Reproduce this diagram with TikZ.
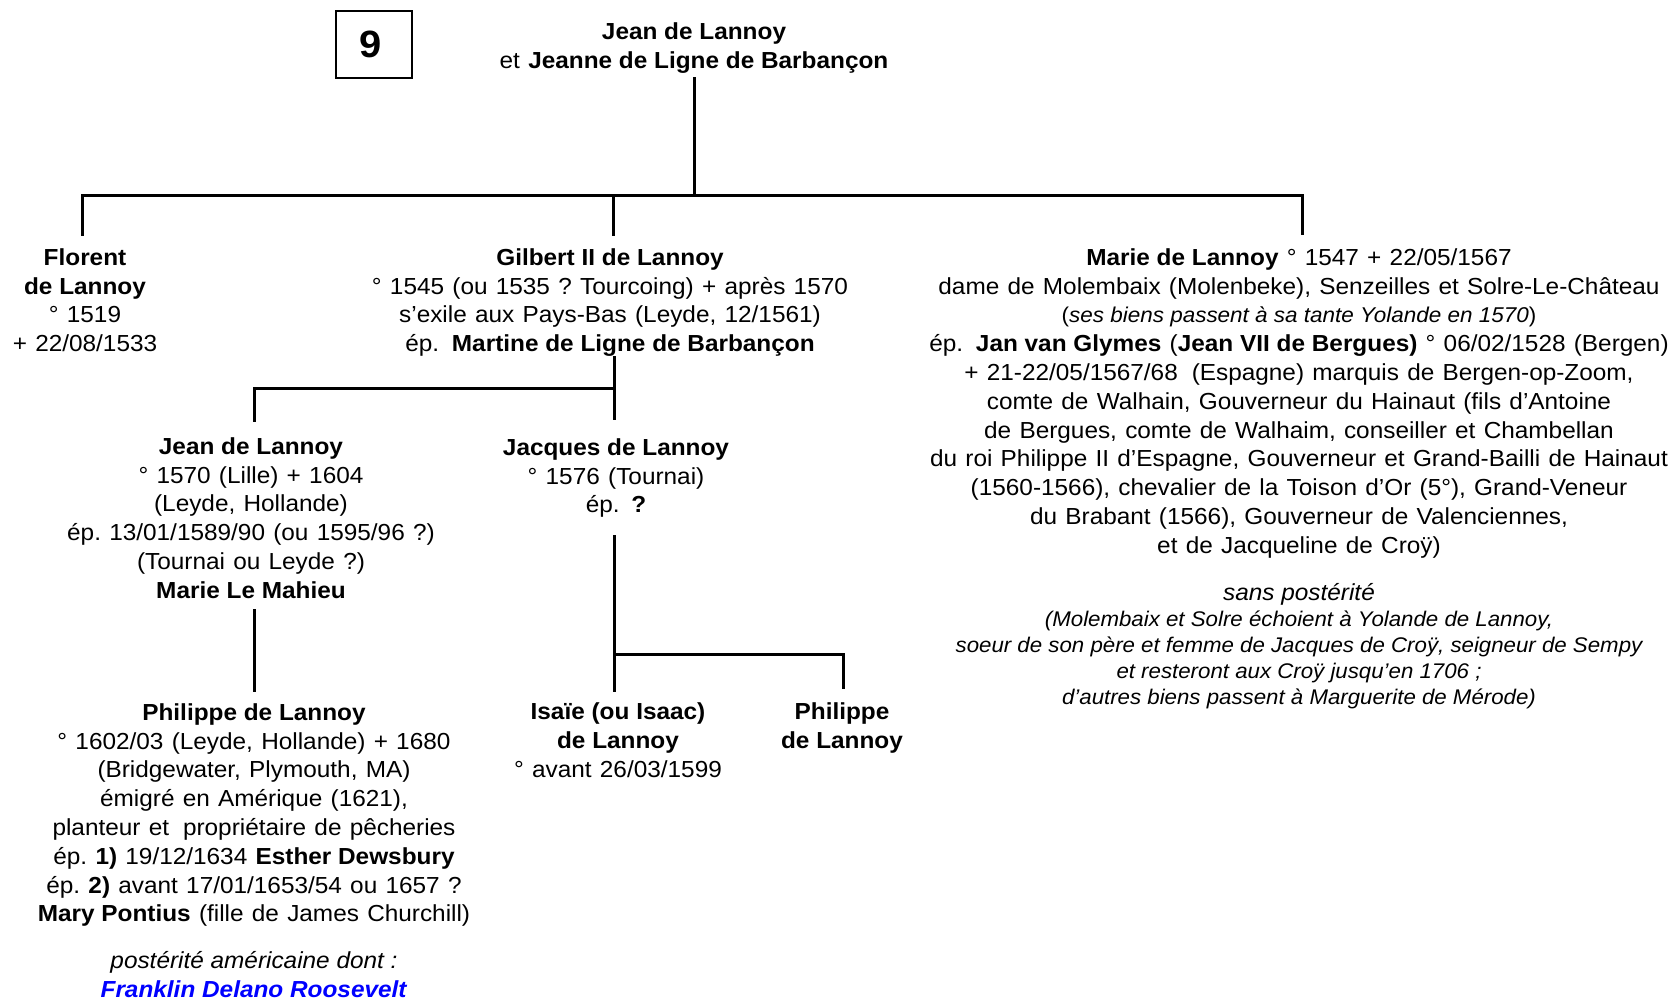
\documentclass[tikz,border=0pt]{standalone}
\usepackage{fontspec}
\setmainfont{Liberation Sans}[FakeStretch=1.05, UprightFeatures={WordSpace=1.22}]
\newcommand\tstrut{\rule{0pt}{10.08pt}}
\begin{document}
\frenchspacing
\begin{tikzpicture}[x=0.5pt,y=-0.5pt,
  txt/.style={anchor=north, inner sep=0pt, align=center, font=\fontsize{11.6}{14.4}\selectfont},
  note/.style={anchor=north, inner sep=0pt, align=center, font=\fontsize{10.6}{12.95}\selectfont\itshape},
  link/.style={line width=1.5pt},
  numbox/.style={draw, line width=1pt, minimum width=37.85pt, minimum height=33.65pt, inner sep=0pt, font=\fontsize{19}{21}\selectfont\bfseries}]
\useasboundingbox (0,0) rectangle (1674,1000);

% nodes
\node[numbox] (num) at (374,44.7) {\hspace*{-3pt}\raisebox{-1.25pt}{9}};
\node[txt] (parents) at (694,18.8) {\tstrut\textbf{Jean de Lannoy}\\et \textbf{Jeanne de Ligne de Barbançon}};

\node[txt] (florent) at (85,244.8) {\tstrut\textbf{Florent}\\\textbf{de Lannoy}\\° 1519\\+ 22/08/1533};
\node[txt] (gilbert) at (610,244.8) {\tstrut\textbf{Gilbert II de Lannoy}\\° 1545 (ou 1535 ? Tourcoing) + après 1570\\s’exile aux Pays-Bas (Leyde, 12/1561)\\ép.\hspace{0.55em}\textbf{Martine de Ligne de Barbançon}};
\node[txt] (marie) at (1299,244.8) {\tstrut\textbf{Marie de Lannoy} ° 1547 + 22/05/1567\\
dame de Molembaix (Molenbeke), Senzeilles et Solre-Le-Château\\
{\fontsize{10.7}{14.4}\selectfont(\textit{ses biens passent à sa tante Yolande en 1570})}\\
ép.\hspace{0.55em}\textbf{Jan van Glymes} (\textbf{Jean VII de Bergues)} ° 06/02/1528 (Bergen)\\
+ 21-22/05/1567/68\hspace{0.6em}(Espagne) marquis de Bergen-op-Zoom,\\
comte de Walhain, Gouverneur du Hainaut (fils d’Antoine\\
de Bergues, comte de Walhaim, conseiller et Chambellan\\
du roi Philippe II d’Espagne, Gouverneur et Grand-Bailli de Hainaut\\
(1560-1566), chevalier de la Toison d’Or (5°), Grand-Veneur\\
du Brabant (1566), Gouverneur de Valenciennes,\\
et de Jacqueline de Croÿ)};
\node[note] (marienote) at (1299,580.3) {{\fontsize{11.6}{14.4}\selectfont\tstrut sans postérité}\\
(Molembaix et Solre échoient à Yolande de Lannoy,\\
soeur de son père et femme de Jacques de Croÿ, seigneur de Sempy\\
et resteront aux Croÿ jusqu’en 1706 ;\\
d’autres biens passent à Marguerite de Mérode)};

\node[txt] (jean) at (251,433.8) {\tstrut\textbf{Jean de Lannoy}\\° 1570 (Lille) + 1604\\(Leyde,\ Hollande)\\ép. 13/01/1589/90 (ou 1595/96 ?)\\(Tournai ou Leyde ?)\\\textbf{Marie Le Mahieu}};
\node[txt] (jacques) at (616,434.8) {\tstrut\textbf{Jacques de Lannoy}\\° 1576 (Tournai)\\ép.\hspace{0.5em}\textbf{?}};

\node[txt] (philippe) at (254,699.8) {\tstrut\textbf{Philippe de Lannoy}\\
° 1602/03 (Leyde, Hollande) + 1680\\
(Bridgewater,\ Plymouth,\ MA)\\
émigré en Amérique (1621),\\
planteur et\hspace{0.6em}propriétaire de pêcheries\\
ép. \textbf{1)} 19/12/1634 \textbf{Esther Dewsbury}\\
ép. \textbf{2)} avant 17/01/1653/54 ou 1657 ?\\
\textbf{Mary Pontius} (fille de James Churchill)};
\node[txt] (posterity) at (254,948.3) {\tstrut\textit{postérité américaine dont :}\\\textcolor{blue}{\textbf{\textit{Franklin Delano Roosevelt}}}};

\node[txt] (isaie) at (618,699.1) {\tstrut\textbf{Isaïe (ou Isaac)}\\\textbf{de Lannoy}\\° avant 26/03/1599};
\node[txt] (philippeb) at (842,699.1) {\tstrut\textbf{Philippe}\\\textbf{de Lannoy}};

% junction coordinates
\coordinate (parentsBot) at (694.5,77.5);
\coordinate (parentsBar) at (694.5,196);
\coordinate (florentTop) at (82,236);
\coordinate (barRight) at (1302,196);
\coordinate (marieTop) at (1302,235);
\coordinate (gilbertBar) at (613,196);
\coordinate (gilbertTop) at (613,236);
\coordinate (gilbertBot) at (614,356);
\coordinate (jacquesTop) at (614,420);
\coordinate (gilbertMid) at (614,388);
\coordinate (jeanTop) at (254,422);
\coordinate (jeanBot) at (254,609);
\coordinate (philippeTop) at (254,692);
\coordinate (jacquesBot) at (614,535);
\coordinate (isaieTop) at (614,692);
\coordinate (jacquesMid) at (614,654);
\coordinate (philippebTop) at (843,689);

% connectors
\draw[link] (parentsBot) -- (parentsBar);
\draw[link] (florentTop) |- (barRight) -- (marieTop);
\draw[link] (gilbertBar) -- (gilbertTop);
\draw[link] (gilbertBot) -- (jacquesTop);
\draw[link] (gilbertMid) -| (jeanTop);
\draw[link] (jeanBot) -- (philippeTop);
\draw[link] (jacquesBot) -- (isaieTop);
\draw[link] (jacquesMid) -| (philippebTop);
\end{tikzpicture}
\end{document}
